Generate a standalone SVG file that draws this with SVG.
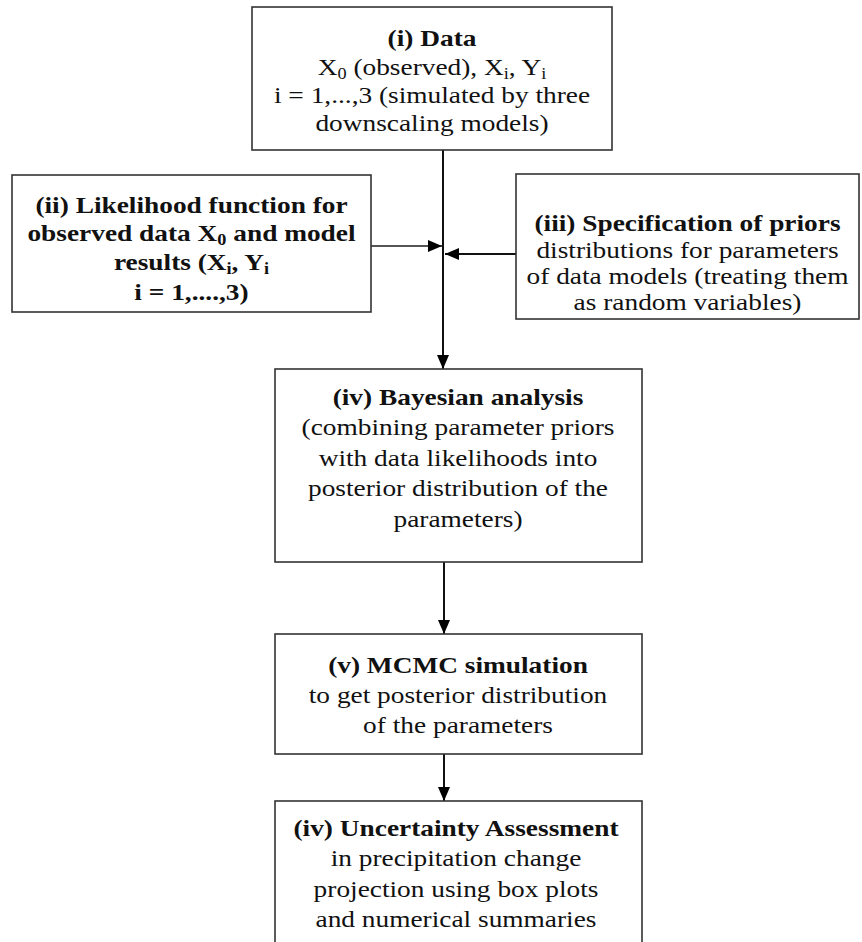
<svg xmlns="http://www.w3.org/2000/svg" width="862" height="942" viewBox="0 0 862 942">
<defs>
<style>
.box{fill:#fff;stroke:#333;stroke-width:1.6}
.t{font-family:"Liberation Serif","Times New Roman",serif;font-size:24px;text-anchor:middle;fill:#111}
.b{font-weight:bold}
.sub{font-size:16px}
.c{fill:none;stroke:#111;stroke-width:2}
.cg{fill:none;stroke:#555;stroke-width:2}
</style>
<marker id="ah" viewBox="0 0 14 12" refX="14" refY="6" markerWidth="14" markerHeight="12" markerUnits="userSpaceOnUse" orient="auto">
<path d="M0,0 L14,6 L0,12 z" fill="#000"/>
</marker>
</defs>
<rect width="862" height="942" fill="#fff"/>

<g id="connectors">
<line class="c" x1="443" y1="150" x2="443" y2="369" marker-end="url(#ah)"/>
<line class="cg" x1="371" y1="246" x2="442" y2="246" marker-end="url(#ah)"/>
<line class="c" x1="516" y1="254" x2="445" y2="254" marker-end="url(#ah)"/>
<line class="c" x1="444" y1="562" x2="444" y2="634" marker-end="url(#ah)"/>
<line class="c" x1="444" y1="754" x2="444" y2="801" marker-end="url(#ah)"/>
</g>

<g id="data">
<rect class="box" x="252" y="7" width="360" height="143"/>
<g transform="translate(432 0) scale(1.14 1)">
<text class="t b" x="0" y="46">(i) Data</text>
<text class="t" x="0" y="75">X<tspan class="sub" dy="4">0</tspan><tspan dy="-4"> (observed), X</tspan><tspan class="sub" dy="4">i</tspan><tspan dy="-4">, Y</tspan><tspan class="sub" dy="4">i</tspan></text>
<text class="t" x="0" y="103">i = 1,...,3 (simulated by three</text>
<text class="t" x="0" y="131">downscaling models)</text>
</g>
</g>

<g id="likelihood">
<rect class="box" x="12" y="175" width="359" height="137"/>
<g transform="translate(191.5 0) scale(1.14 1)">
<text class="t b" x="0" y="213">(ii) Likelihood function for</text>
<text class="t b" x="0" y="241">observed data X<tspan class="sub" dy="4">0</tspan><tspan dy="-4"> and model</tspan></text>
<text class="t b" x="0" y="270">results (X<tspan class="sub" dy="4">i</tspan><tspan dy="-4">, Y</tspan><tspan class="sub" dy="4">i</tspan></text>
<text class="t b" x="0" y="300">i = 1,....,3)</text>
</g>
</g>

<g id="priors">
<rect class="box" x="516" y="174" width="343" height="145"/>
<g transform="translate(687.5 0) scale(1.14 1)">
<text class="t b" x="0" y="231">(iii) Specification of priors</text>
<text class="t" x="0" y="258">distributions for parameters</text>
<text class="t" x="0" y="284">of data models (treating them</text>
<text class="t" x="0" y="310">as random variables)</text>
</g>
</g>

<g id="bayesian">
<rect class="box" x="275" y="369" width="367" height="193"/>
<g transform="translate(458 0) scale(1.14 1)">
<text class="t b" x="0" y="405">(iv) Bayesian analysis</text>
<text class="t" x="0" y="435">(combining parameter priors</text>
<text class="t" x="0" y="466">with data likelihoods into</text>
<text class="t" x="0" y="496">posterior distribution of the</text>
<text class="t" x="0" y="527">parameters)</text>
</g>
</g>

<g id="mcmc">
<rect class="box" x="275" y="634" width="367" height="120"/>
<g transform="translate(458 0) scale(1.14 1)">
<text class="t b" x="0" y="673">(v) MCMC simulation</text>
<text class="t" x="0" y="703">to get posterior distribution</text>
<text class="t" x="0" y="733">of the parameters</text>
</g>
</g>

<g id="uncertainty">
<rect class="box" x="275" y="801" width="367" height="160"/>
<g transform="translate(456 0) scale(1.14 1)">
<text class="t b" x="0" y="836">(iv) Uncertainty Assessment</text>
<text class="t" x="0" y="866">in precipitation change</text>
<text class="t" x="0" y="897">projection using box plots</text>
<text class="t" x="0" y="927">and numerical summaries</text>
</g>
</g>
</svg>
